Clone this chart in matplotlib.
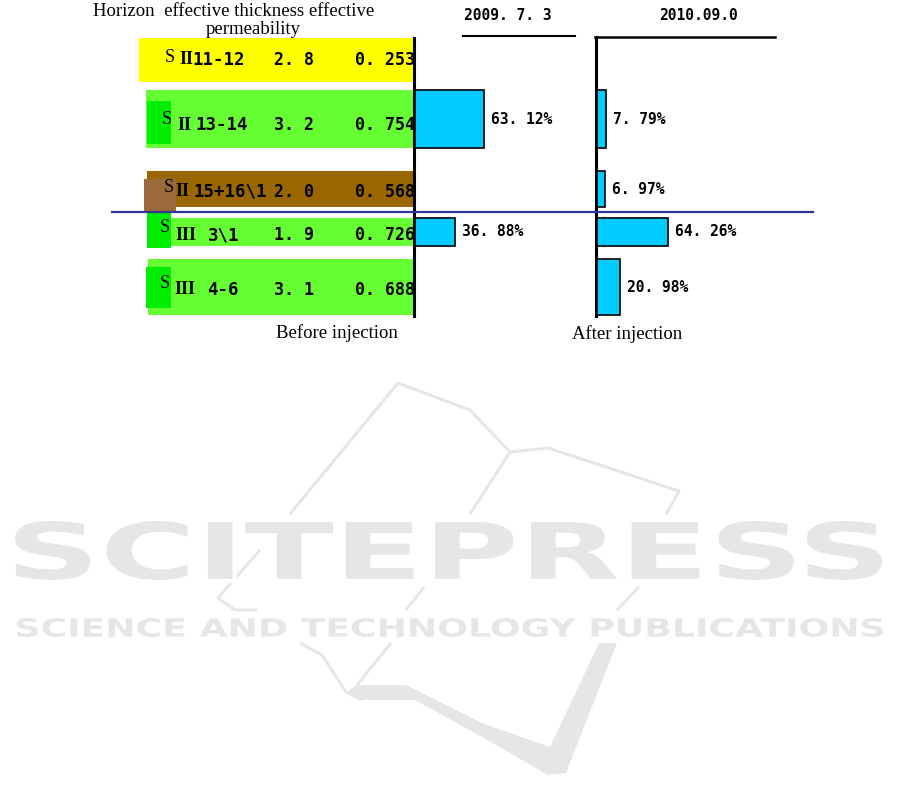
"""
Injection profile chart: per-horizon share of injected water before and after.
"""

import matplotlib as mpl

mpl.use("Agg")

import matplotlib.pyplot as plt
from matplotlib.font_manager import FontProperties
from matplotlib.patches import PathPatch, Rectangle
from matplotlib.textpath import TextPath
from matplotlib.transforms import Affine2D

W, H = 901, 811

# data
numerals = ["II", "II", "II", "III", "III"]
zones = ["11-12", "13-14", "15+16\\1", "3\\1", "4-6"]
thickness = [2.8, 3.2, 2.0, 1.9, 3.1]
permeability = [0.253, 0.754, 0.568, 0.726, 0.688]
before = [0.0, 63.12, 0.0, 36.88, 0.0]
after = [0.0, 7.79, 6.97, 64.26, 20.98]
date_before = "2009. 7. 3"
date_after = "2010.09.0"

row_colors = ["#FFFF00", "#66FF33", "#996600", "#66FF33", "#66FF33"]
tag_colors = [None, "#00EE00", "#9B6A3A", "#00EE00", "#00EE00"]

# layout in pixels
row_top = [38, 90, 171, 218, 259]
row_bot = [82, 148, 207, 246, 315]
box_left = [139, 146, 147, 147, 148]
tag_boxes = [None, (147, 101, 171, 144), (144, 179, 176, 211), (147, 213, 171, 248), (146, 267, 171, 308)]
s_x = [165, 162, 164, 160, 160]
s_y = [57, 120, 188, 228, 283]
num_x = [179, 177, 175, 175, 174]
zone_x = [192, 195, 193, 208, 207]
text_y = [60, 125, 192, 235, 290]
PX_PER_PCT = 1.1

SERIF = "Liberation Serif"
MONO = "DejaVu Sans Mono"
WM = "#E5E7E5"


def fmt(v, digits):
    return f"{v:.{digits}f}".replace(".", ". ")


def fit_text(ax, text, x0, x1, y0, y1):
    prop = FontProperties(family="DejaVu Sans", weight="bold")
    path = TextPath((0, 0), text, size=50, prop=prop)
    bb = path.get_extents()
    tr = (Affine2D().translate(-bb.x0, -bb.y0)
          .scale((x1 - x0) / bb.width, -(y1 - y0) / bb.height)
          .translate(x0, y1))
    path = tr.transform_path(path)
    ax.add_patch(PathPatch(path, facecolor="none", edgecolor="white", lw=6, zorder=1))
    ax.add_patch(PathPatch(path, facecolor=WM, edgecolor="none", zorder=1.1))


def draw_watermark(ax):
    kw = dict(color=WM, lw=2.2, solid_capstyle="butt", zorder=0.5)
    ax.plot([290, 398, 470, 510], [514, 383, 410, 452], **kw)
    ax.plot([510, 548, 615, 679, 666], [452, 448, 470, 491, 514], **kw)
    ax.plot([510, 470], [452, 514], **kw)
    ax.plot([260, 218, 235, 257], [550, 598, 610, 610], **kw)
    ax.plot([424, 406], [587, 610], **kw)
    ax.plot([639, 617], [587, 610], **kw)
    ax.plot([300, 322, 346, 362], [643, 655, 692, 700], **kw)
    ax.plot([391, 357], [643, 685], **kw)
    ax.fill([357, 406, 482, 550, 599, 617, 566, 548, 482, 415, 362, 346],
            [685, 685, 723, 747, 643, 643, 773, 775, 737, 700, 700, 692],
            color=WM, lw=0, zorder=0.5)
    fit_text(ax, "SCITEPRESS", 15, 882, 521, 580)
    fit_text(ax, "SCIENCE AND TECHNOLOGY PUBLICATIONS", 17, 883, 618, 637)


def draw_bars(fig, left_px, values, tops, bots):
    ax = fig.add_axes([left_px / W, 0, 200 / W, 1])
    ax.set_xlim(0, 200 / PX_PER_PCT)
    ax.set_ylim(H, 0)
    ax.axis("off")
    ax.patch.set_alpha(0)
    for v, t, b in zip(values, tops, bots):
        if v <= 0:
            continue
        c = (t + b) / 2
        ax.barh(c, v, height=b - t, left=0, color="#00CCFF", edgecolor="black", lw=1.2, zorder=3)
        ax.annotate(fmt(v, 2) + "%", (v, c), xytext=(5, 0), textcoords="offset points",
                    va="center", ha="left", family=MONO, weight="bold", fontsize=10.5)
    return ax


def main():
    fig = plt.figure(figsize=(W / 100, H / 100), dpi=100)
    ax = fig.add_axes([0, 0, 1, 1])
    ax.set_xlim(0, W)
    ax.set_ylim(H, 0)
    ax.axis("off")

    draw_watermark(ax)

    # horizon rows
    for i in range(len(zones)):
        ax.add_patch(Rectangle((box_left[i], row_top[i]), 413 - box_left[i], row_bot[i] - row_top[i],
                               facecolor=row_colors[i], edgecolor="none", zorder=2))
        if tag_boxes[i] is not None:
            x0, y0, x1, y1 = tag_boxes[i]
            ax.add_patch(Rectangle((x0, y0), x1 - x0, y1 - y0, facecolor=tag_colors[i],
                                   edgecolor="none", zorder=2.5))
        ax.text(s_x[i], s_y[i], "S", family=SERIF, fontsize=13, va="center", ha="left", zorder=4)
        ax.text(num_x[i], text_y[i], numerals[i], family=SERIF, weight="bold", fontsize=13,
                va="center", ha="left", zorder=4)
        ax.text(zone_x[i], text_y[i], zones[i], family=MONO, weight="bold", fontsize=12.5,
                va="center", ha="left", zorder=4)
        ax.text(274, text_y[i], fmt(thickness[i], 1), family=MONO, weight="bold", fontsize=12,
                va="center", ha="left", zorder=4)
        ax.text(415, text_y[i], fmt(permeability[i], 3), family=MONO, weight="bold", fontsize=12,
                va="center", ha="right", zorder=4)

    # header and captions
    ax.text(93, 12, "Horizon  effective thickness effective", family=SERIF, fontsize=13.5,
            va="center", ha="left")
    ax.text(253, 29, "permeability", family=SERIF, fontsize=13.5, va="center", ha="center")
    ax.text(337, 333, "Before injection", family=SERIF, fontsize=13.5, va="center", ha="center")
    ax.text(627, 334, "After injection", family=SERIF, fontsize=13.5, va="center", ha="center")
    ax.text(508, 16, date_before, family=MONO, weight="bold", fontsize=10.5, va="center", ha="center")
    ax.text(698, 16, date_after, family=MONO, weight="bold", fontsize=10.5, va="center", ha="center")

    # frame lines
    ax.plot([463, 575], [36, 36], color="black", lw=1.5, zorder=5)
    ax.plot([595, 775], [37, 37], color="black", lw=1.8, zorder=5)
    ax.plot([413.5, 413.5], [38, 316], color="black", lw=2.2, zorder=5)
    ax.plot([595.5, 595.5], [37, 316], color="black", lw=2.2, zorder=5)

    draw_bars(fig, 414.5, before, row_top, row_bot)
    draw_bars(fig, 597, after, row_top, row_bot)

    # divider between groups, on top of everything
    top = fig.add_axes([0, 0, 1, 1])
    top.set_xlim(0, W)
    top.set_ylim(H, 0)
    top.axis("off")
    top.patch.set_alpha(0)
    top.plot([112, 813], [212, 212], color="#333399", lw=1.6)

    fig.savefig("out.png", dpi=100)
    plt.close(fig)


if __name__ == "__main__":
    main()
